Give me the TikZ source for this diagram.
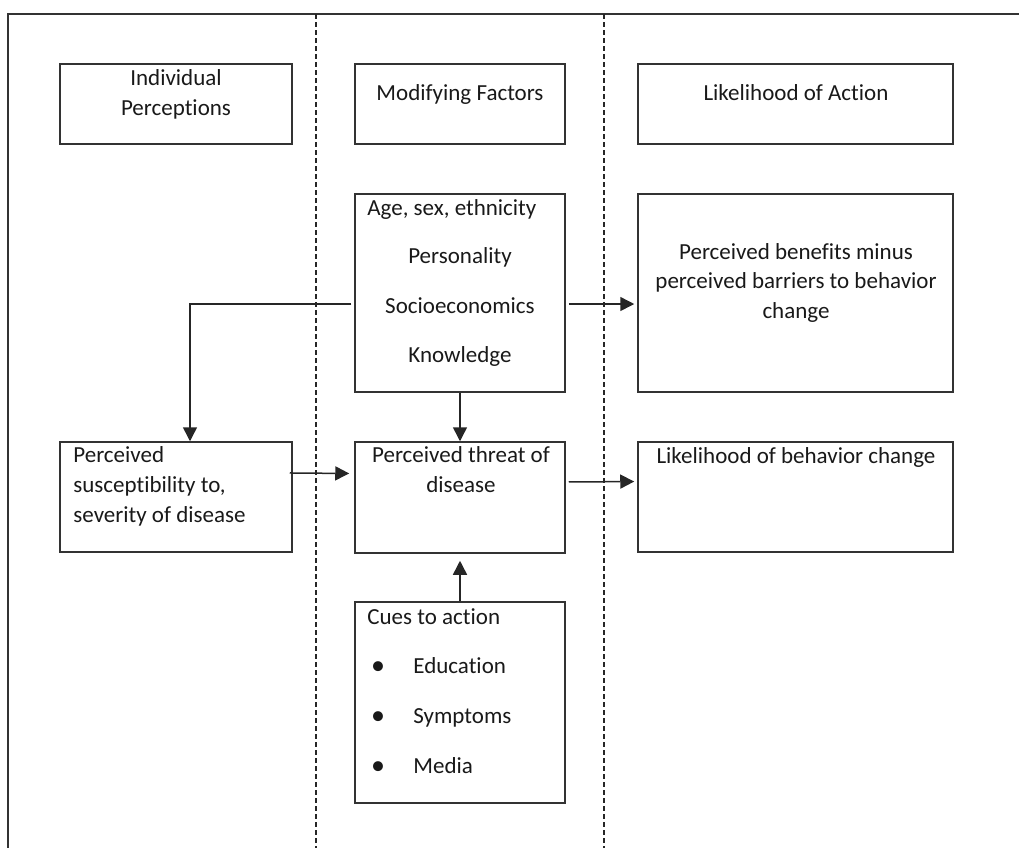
\documentclass[tikz,border=0pt]{standalone}
\usepackage{fontspec}
\setmainfont{Carlito}[RawFeature={-liga;-calt;-dlig}]
\usetikzlibrary{arrows.meta,fit}

\tikzset{
  box/.style={draw=black!80, line width=0.75pt, inner sep=0pt},
  txt/.style={inner sep=0pt, anchor=base, text=black!90, font=\fontsize{11.5pt}{15pt}\selectfont},
  txtl/.style={txt, anchor=base west},
  dot/.style={txt, font=\fontsize{14pt}{15pt}\selectfont},
  arr/.style={draw=black!85, line width=0.75pt, -{Triangle[length=7pt,width=7pt]}},
  divider/.style={draw=black!85, line width=0.6pt, dash pattern=on 2.5pt off 1.5pt}
}

\begin{document}
\begin{tikzpicture}[x=0.5pt, y=-0.5pt]
  \useasboundingbox (0,0) rectangle (1019,848);

  % frame and column dividers
  \draw[line width=0.75pt, black!80] (1019,14) -- (8,14) -- (8,848);
  \draw[divider] (316,14) -- (316,848);
  \draw[divider] (604,14) -- (604,848);

  % column headings
  \node[box, fit={(60,64) (292,144)}] (ip) {};
  \node[txt] (ip1) at (176,85) {Individual};
  \node[txt] (ip2) at (176,115) {Perceptions};
  \node[box, fit={(355,64) (565,144)}] (mf) {};
  \node[txt] (mf1) at (460,100) {Modifying Factors};
  \node[box, fit={(638,64) (953,144)}] (la) {};
  \node[txt] (la1) at (796,100) {Likelihood of Action};

  % modifying factors
  \node[box, fit={(355,194) (565,392)}] (age) {};
  \node[txtl] (age1) at (367,215) {Age, sex, ethnicity};
  \node[txt] (age2) at (460,263) {Personality};
  \node[txt] (age3) at (460,313) {Socioeconomics};
  \node[txt] (age4) at (460,362) {Knowledge};

  \node[box, fit={(638,194) (953,392)}] (pb) {};
  \node[txt] (pb1) at (796,259) {Perceived benefits minus};
  \node[txt] (pb2) at (796,288) {perceived barriers to behavior};
  \node[txt] (pb3) at (796,318) {change};

  % middle row
  \node[box, fit={(60,442) (292,552)}] (ps) {};
  \node[txtl] (ps1) at (73,462) {Perceived};
  \node[txtl] (ps2) at (73,492) {susceptibility to,};
  \node[txtl] (ps3) at (73,522) {severity of disease};

  \node[box, fit={(355,442) (565,553)}] (pt) {};
  \node[txt] (pt1) at (461,462) {Perceived threat of};
  \node[txt] (pt2) at (461,492) {disease};

  \node[box, fit={(638,442) (953,552)}] (lb) {};
  \node[txt] (lb1) at (796,463) {Likelihood of behavior change};

  % cues
  \node[box, fit={(355,602) (565,803)}] (cues) {};
  \node[txtl] (cue0) at (367,624) {Cues to action};
  \node[dot] (b1) at (378,674) {\textbullet};
  \node[txtl] (cue1) at (413,673) {Education};
  \node[dot] (b2) at (378,724) {\textbullet};
  \node[txtl] (cue2) at (413,723) {Symptoms};
  \node[dot] (b3) at (378,774) {\textbullet};
  \node[txtl] (cue3) at (413,773) {Media};

  % arrows
  \coordinate (bend) at (190,304);
  \draw[arr, shorten <=1.5pt] (age.west |- bend) -- (bend) -- (bend |- ps.north);
  \draw[arr, shorten <=1.5pt, shorten >=1.5pt] (age.east |- bend) -- (pb.west |- bend);
  \draw[arr] (age.south) -- (pt.north);
  \draw[arr, shorten <=-1.5pt, shorten >=2.5pt] ([yshift=12pt]ps.east) -- ([yshift=12pt]pt.west);
  \draw[arr, shorten <=1.5pt, shorten >=1.5pt] ([yshift=7.75pt]pt.east) -- ([yshift=7.75pt]lb.west);
  \draw[arr, shorten >=3.5pt] (cues.north) -- (pt.south);
\end{tikzpicture}
\end{document}
